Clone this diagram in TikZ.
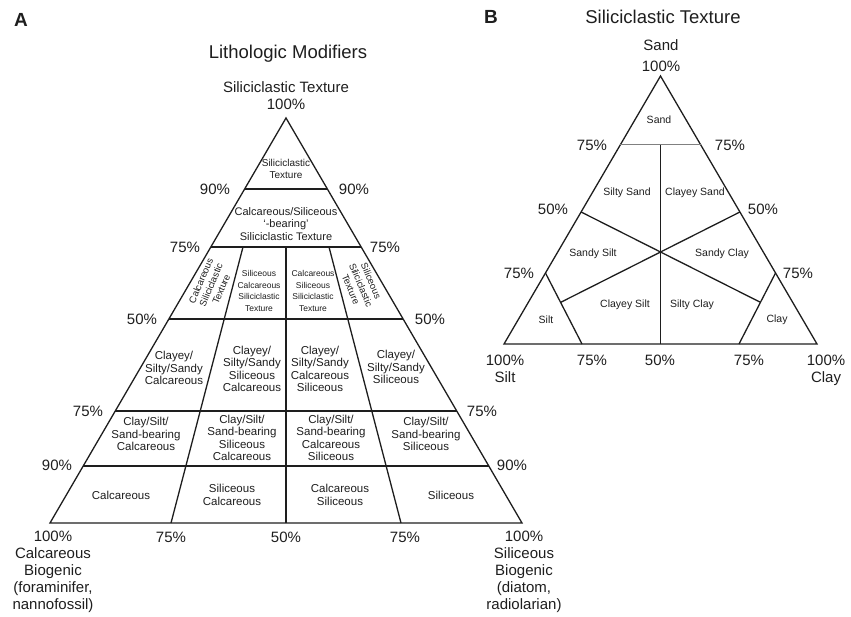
\documentclass[tikz,border=0pt]{standalone}
\usepackage{fontspec}
\setmainfont{Liberation Sans}
\usetikzlibrary{calc, positioning}
\definecolor{ink}{RGB}{30,30,30}
\tikzset{%
  edge/.style={draw=ink, line width=1.3pt},
  thinedge/.style={draw=black!50, line width=1pt},
  cell/.style={align=center, text=ink, inner sep=0pt, font=\fontsize{11.5}{12.5}\selectfont},
  smallcell/.style={cell, font=\fontsize{8.5}{11.5}\selectfont},
  tinycell/.style={cell, font=\fontsize{10.5}{12}\selectfont},
  pct/.style={align=center, text=ink, inner sep=0pt, font=\fontsize{15}{17}\selectfont},
  heading/.style={text=ink, inner sep=0pt, font=\fontsize{18.5}{20}\selectfont},
  panel/.style={text=ink, inner sep=0pt, font=\bfseries\fontsize{19}{21}\selectfont}}

\begin{document}
\begin{tikzpicture}[x=1pt, y=-1pt]
    \useasboundingbox (0, 0) rectangle (851, 617);

    % panel A: lithologic modifiers
    \node [panel] (labA) at (21, 20) {A};
    \node [heading] (litho) at (288, 54) {Lithologic Modifiers};
    \node [pct] (Asil) at (286, 87) {Siliciclastic Texture};
    \node [pct] (Atop100) at (286, 104) {100\%};

    \coordinate (Atop) at (286, 118);
    \coordinate (Aleft) at (50, 523);
    \coordinate (Aright) at (522, 523);
    \path [edge] (Atop) -- (Aleft) -- (Aright) -- cycle;

    \foreach \lv in {189, 247, 319, 411, 466} {
      \path [edge] ($(Atop)!{(\lv-118)/405}!(Aleft)$) -- ($(Atop)!{(\lv-118)/405}!(Aright)$);
    }

    \coordinate (Adl) at (171, 523);
    \coordinate (Adlt) at (243, 247);
    \coordinate (Adm) at (286, 523);
    \coordinate (Admt) at (286, 247);
    \coordinate (Adr) at (401, 523);
    \coordinate (Adrt) at (329, 247);
    \path [edge] (Adl) -- (Adlt);
    \path [edge] (Adm) -- (Admt);
    \path [edge] (Adr) -- (Adrt);

    \foreach \x/\y/\t [count=\i] in {215/189/90, 354/189/90, 185/247/75, 385/247/75,
        142/319/50, 430/319/50, 88/411/75, 482/411/75, 57/465/90, 512/465/90} {
      \node [pct] (Apct\i) at (\x, \y) {\t\%};
    }
    \node [pct] (Ab75l) at (171, 537) {75\%};
    \node [pct] (Ab50) at (286, 537) {50\%};
    \node [pct] (Ab75r) at (405, 537) {75\%};
    \node [pct, anchor=north] (Acalc) at (53, 531) {100\%\\Calcareous\\Biogenic\\(foraminifer,\\nannofossil)};
    \node [pct, anchor=north] (Asili) at (524, 531) {100\%\\Siliceous\\Biogenic\\(diatom,\\radiolarian)};

    \node [cell, font=\fontsize{10}{12}\selectfont] (c1) at (286, 169) {Siliciclastic\\Texture};
    \node [cell, font=\fontsize{11}{12.5}\selectfont] (c2) at (286, 224) {Calcareous/Siliceous\\`-bearing'\\Siliciclastic Texture};

    \node [smallcell, font=\fontsize{9.5}{11}\selectfont, rotate=67] (c3a) at (211, 285) {Calcareous\\Siliciclastic\\Texture};
    \node [smallcell] (c3b) at (259, 291) {Siliceous\\Calcareous\\Siliciclastic\\Texture};
    \node [smallcell] (c3c) at (313, 291) {Calcareous\\Siliceous\\Siliciclastic\\Texture};
    \node [smallcell, font=\fontsize{9.5}{11}\selectfont, rotate=-67] (c3d) at (361, 285) {Siliceous\\Siliciclastic\\Texture};

    \node [cell] (c4a) at (174, 368) {Clayey/\\Silty/Sandy\\Calcareous};
    \node [cell] (c4b) at (252, 369) {Clayey/\\Silty/Sandy\\Siliceous\\Calcareous};
    \node [cell] (c4c) at (320, 369) {Clayey/\\Silty/Sandy\\Calcareous\\Siliceous};
    \node [cell] (c4d) at (396, 367) {Clayey/\\Silty/Sandy\\Siliceous};

    \node [cell] (c5a) at (146, 434) {Clay/Silt/\\Sand-bearing\\Calcareous};
    \node [cell] (c5b) at (242, 438) {Clay/Silt/\\Sand-bearing\\Siliceous\\Calcareous};
    \node [cell] (c5c) at (331, 438) {Clay/Silt/\\Sand-bearing\\Calcareous\\Siliceous};
    \node [cell] (c5d) at (426, 434) {Clay/Silt/\\Sand-bearing\\Siliceous};

    \node [cell] (c6a) at (121, 495) {Calcareous};
    \node [cell] (c6b) at (232, 495) {Siliceous\\Calcareous};
    \node [cell] (c6c) at (340, 495) {Calcareous\\Siliceous};
    \node [cell] (c6d) at (451, 495) {Siliceous};

    % panel B: siliciclastic texture
    \node [panel] (labB) at (491, 17) {B};
    \node [heading] (Bhead) at (663, 17) {Siliciclastic Texture};
    \node [pct] (Bsand) at (661, 45) {Sand};
    \node [pct] (Btop100) at (661, 66) {100\%};

    \coordinate (Btop) at (660.5, 76);
    \coordinate (Bleft) at (504, 344);
    \coordinate (Bright) at (817, 344);
    \path [edge] (Btop) -- (Bleft) -- (Bright) -- cycle;

    \coordinate (Bs75l) at ($(Btop)!{69/268}!(Bleft)$);
    \coordinate (Bs75r) at ($(Btop)!{69/268}!(Bright)$);
    \coordinate (Bs75m) at (660.5, 145);
    \coordinate (Bbot50) at (660.5, 344);
    \coordinate (B50l) at ($(Btop)!{136/268}!(Bleft)$);
    \coordinate (B50r) at ($(Btop)!{136/268}!(Bright)$);
    \coordinate (Bc) at (660.5, 252);
    \coordinate (Bsilt) at ($(Btop)!{197/268}!(Bleft)$);
    \coordinate (Bsilt75) at (582, 344);
    \coordinate (Bclay) at ($(Btop)!{197/268}!(Bright)$);
    \coordinate (Bclay75) at (739, 344);

    \path [thinedge] (Bs75l) -- (Bs75r);
    \path [edge] (Bs75m) -- (Bbot50);
    \path [edge] (Bsilt) -- (Bsilt75);
    \path [edge] (Bclay) -- (Bclay75);
    \path [edge] (B50l) -- (intersection of B50l--Bc and Bclay--Bclay75);
    \path [edge] (B50r) -- (intersection of B50r--Bc and Bsilt--Bsilt75);

    \foreach \x/\y/\t [count=\i] in {592/145/75, 730/145/75, 553/209/50, 763/209/50,
        519/273/75, 798/273/75, 592/360/75, 660/360/50, 749/360/75} {
      \node [pct] (Bpct\i) at (\x, \y) {\t\%};
    }
    \node [pct, anchor=north] (Bsilt100) at (505, 354.5) {100\%\\Silt};
    \node [pct, anchor=north] (Bclay100) at (826, 354.5) {100\%\\Clay};

    \node [tinycell] (bsand) at (659, 120) {Sand};
    \node [tinycell] (bsiltysand) at (627, 193) {Silty Sand};
    \node [tinycell] (bclayeysand) at (695, 193) {Clayey Sand};
    \node [tinycell] (bsandysilt) at (593, 254) {Sandy Silt};
    \node [tinycell] (bsandyclay) at (722, 254) {Sandy Clay};
    \node [tinycell] (bclayeysilt) at (625, 305) {Clayey Silt};
    \node [tinycell] (bsiltyclay) at (692, 305) {Silty Clay};
    \node [tinycell] (bsiltonly) at (546, 320) {Silt};
    \node [tinycell] (bclayonly) at (777, 320) {Clay};
\end{tikzpicture}
\end{document}
